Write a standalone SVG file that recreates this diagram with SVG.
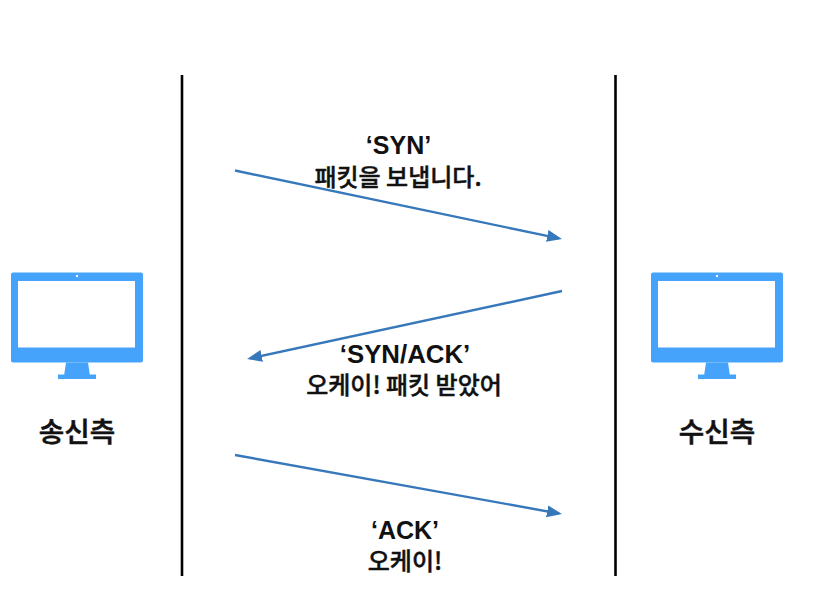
<svg xmlns="http://www.w3.org/2000/svg" xmlns:xlink="http://www.w3.org/1999/xlink" width="813" height="603" viewBox="0 0 813 603">
<style>
text{font-family:"Liberation Sans","Noto Sans CJK KR",sans-serif;font-size:25.800px;fill:#111;text-anchor:middle}
.b{font-weight:700}
.k{font-family:"Noto Sans CJK KR",sans-serif;font-weight:500;font-size:24px;stroke:#111;stroke-width:.45px}
.n{font-size:27.700px;stroke-width:.6px}
.life{stroke:#000;stroke-width:2.600;fill:none}
.msg{stroke:#3778bb;stroke-width:2.400;fill:none;marker-end:url(#ah)}
</style>
<defs>
<marker id="ah" markerUnits="userSpaceOnUse" markerWidth="16" markerHeight="13" refX="12" refY="6" orient="auto"><path d="M0 0L15 6L0 12Z" fill="#3778bb"/></marker>
<g id="pc">
<rect x="11" y="272.500" width="132" height="90" rx="2" fill="#45a3fb"/>
<rect x="18" y="281" width="117" height="66.500" fill="#fff"/>
<circle cx="77" cy="276" r="1.200" fill="#fff"/>
<path d="M66 362.500H88L90 376H64Z" fill="#45a3fb"/>
<rect x="58" y="374.500" width="38" height="4.500" fill="#45a3fb"/>
</g>
</defs>
<rect width="813" height="603" fill="#fff"/>
<g id="lifelines">
<line class="life" x1="182" y1="75" x2="182" y2="576"/>
<line class="life" x1="615.500" y1="75" x2="615.500" y2="576"/>
</g>
<g id="sender"><use xlink:href="#pc" href="#pc"/><text class="k n" x="77" y="442">송신측</text></g>
<g id="receiver"><use xlink:href="#pc" href="#pc" x="640"/><text class="k n" x="717" y="442">수신측</text></g>
<g id="connectors">
<line class="msg" x1="235" y1="170.500" x2="559" y2="238.400"/>
<line class="msg" x1="562" y1="291" x2="250" y2="358.400"/>
<line class="msg" x1="235" y1="455" x2="559" y2="513.500"/>
</g>
<g id="label-syn"><text class="b" x="398.500" y="154" style="font-size:25px">‘SYN’</text><text class="k" x="398" y="186">패킷을 보냅니다.</text></g>
<g id="label-synack"><text class="b" x="405" y="363">‘SYN/ACK’</text><text class="k" x="404" y="394">오케이! 패킷 받았어</text></g>
<g id="label-ack"><text class="b" x="405" y="539" style="font-size:25px">‘ACK’</text><text class="k" x="405" y="570">오케이!</text></g>
</svg>
